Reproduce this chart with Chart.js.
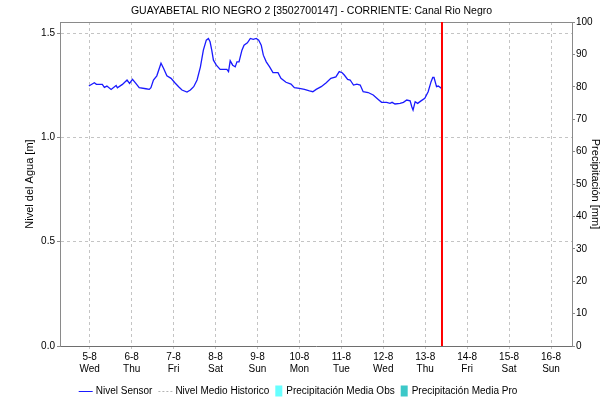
<!DOCTYPE html>
<html>
<head>
<meta charset="utf-8">
<script src="https://cdn.jsdelivr.net/npm/chart.js@4.4.1/dist/chart.umd.min.js"></script>
<style>
  html, body { margin: 0; padding: 0; background: #ffffff; }
  canvas { display: block; }
</style>
</head>
<body>
<canvas id="chart" width="613" height="403"></canvas>
<script>
// Station title
const stationTitle = 'GUAYABETAL RIO NEGRO 2 [3502700147] - CORRIENTE: Canal Rio Negro';

// Day axis: tick i = midnight of day dayLabels[i]
const dayLabels = ['5-8', '6-8', '7-8', '8-8', '9-8', '10-8', '11-8', '12-8', '13-8', '14-8', '15-8', '16-8'];
const weekDays  = ['Wed', 'Thu', 'Fri', 'Sat', 'Sun', 'Mon', 'Tue', 'Wed', 'Thu', 'Fri', 'Sat', 'Sun'];
const dayMin = -17 / 24;   // 4-8 07:00
const dayMax = 11.5;       // 16-8 12:00
const nowDay = 8.40;       // current time marker

// Water level axis
const levelTicks = [0, 0.5, 1.0, 1.5];
const levelMax = 1.553;

// Precipitation axis
const precipMax = 100;

// Sensor level: time (days from 5-8 00:00) and level [m]
const levelDays = [
  -0.02, 0.11, 0.16, 0.30, 0.35, 0.41, 0.51, 0.63, 0.66, 0.78, 0.89, 0.95, 1.02, 1.10, 1.18, 1.34,
  1.42, 1.46, 1.52, 1.60, 1.70, 1.76, 1.84, 1.94, 2.03, 2.12, 2.20, 2.32, 2.40, 2.48, 2.56, 2.64,
  2.71, 2.78, 2.83, 2.87, 2.91, 2.95, 3.02, 3.11, 3.27, 3.31, 3.35, 3.41, 3.47, 3.51, 3.56, 3.63,
  3.68, 3.76, 3.83, 3.90, 3.97, 4.03, 4.09, 4.14, 4.21, 4.29, 4.37, 4.49, 4.56, 4.68, 4.80, 4.88,
  5.00, 5.12, 5.24, 5.32, 5.40, 5.52, 5.64, 5.75, 5.87, 5.95, 6.02, 6.07, 6.15, 6.21, 6.29, 6.37,
  6.45, 6.52, 6.64, 6.76, 6.88, 6.96, 7.08, 7.16, 7.21, 7.28, 7.40, 7.48, 7.56, 7.64, 7.68, 7.71,
  7.76, 7.82, 7.90, 7.99, 8.07, 8.14, 8.18, 8.21, 8.27, 8.31, 8.39
];
const levelValues = [
  1.246, 1.262, 1.254, 1.254, 1.240, 1.246, 1.230, 1.249, 1.238, 1.254, 1.275, 1.259, 1.278, 1.259, 1.238, 1.233,
  1.230, 1.238, 1.275, 1.295, 1.355, 1.331, 1.295, 1.283, 1.262, 1.243, 1.227, 1.217, 1.227, 1.243, 1.275, 1.338,
  1.418, 1.466, 1.474, 1.458, 1.418, 1.370, 1.346, 1.326, 1.326, 1.315, 1.367, 1.346, 1.338, 1.362, 1.362, 1.418,
  1.442, 1.453, 1.474, 1.470, 1.474, 1.466, 1.442, 1.394, 1.362, 1.338, 1.310, 1.310, 1.283, 1.264, 1.255, 1.238,
  1.235, 1.230, 1.223, 1.219, 1.230, 1.243, 1.262, 1.283, 1.290, 1.315, 1.310, 1.299, 1.278, 1.275, 1.251, 1.255,
  1.251, 1.219, 1.215, 1.203, 1.182, 1.168, 1.168, 1.163, 1.168, 1.160, 1.163, 1.168, 1.179, 1.175, 1.147, 1.131,
  1.171, 1.163, 1.175, 1.187, 1.219, 1.267, 1.287, 1.287, 1.243, 1.246, 1.235
];

// Historic mean level and precipitation (no values in this period)
const historicDays = [];
const historicValues = [];
const precipObsDays = [];
const precipObsValues = [];
const precipProDays = [];
const precipProValues = [];

const pairs = (xs, ys) => xs.map((x, i) => ({ x: x, y: ys[i] }));

const FONT = '"Liberation Sans", Arial, Helvetica, sans-serif';
Chart.defaults.font.family = FONT;
Chart.defaults.font.size = 10;
Chart.defaults.color = '#000000';

const GRID = '#c4c4c4';
const AXIS = '#8a8a8a';

// Single-row legend under the plot, built from the datasets that carry a label
const legendRow = {
  id: 'legendRow',
  afterDraw(chart, args, opts) {
    const ctx = chart.ctx;
    const items = chart.data.datasets.filter(ds => ds.label).map(ds => {
      const isBar = ds.type === 'bar';
      return { ds, isBar, sw: isBar ? 7 : 14, gap: isBar ? 4 : 3 };
    });
    ctx.save();
    ctx.font = '10px ' + FONT;
    ctx.textBaseline = 'middle';
    items.forEach(it => { it.tw = ctx.measureText(it.ds.label).width; });
    const spacing = 6;
    const total = items.reduce((s, it) => s + it.sw + it.gap + it.tw, 0) + spacing * (items.length - 1);
    let x = opts.centerX - total / 2;
    const y = opts.y;
    items.forEach(it => {
      const ds = it.ds;
      if (it.isBar) {
        ctx.fillStyle = ds.backgroundColor;
        ctx.fillRect(x, y - 5.5, it.sw, 11);
      } else {
        ctx.strokeStyle = ds.borderColor;
        ctx.lineWidth = 1;
        ctx.setLineDash(ds.borderDash || []);
        ctx.beginPath();
        ctx.moveTo(x, y + 0.5);
        ctx.lineTo(x + it.sw, y + 0.5);
        ctx.stroke();
        ctx.setLineDash([]);
      }
      x += it.sw + it.gap;
      ctx.fillStyle = '#000000';
      ctx.fillText(ds.label, x, y + 0.5);
      x += it.tw + spacing;
    });
    ctx.restore();
  }
};

new Chart(document.getElementById('chart'), {
  type: 'line',
  data: {
    datasets: [
      {
        label: 'Nivel Sensor',
        data: pairs(levelDays, levelValues),
        borderColor: '#1a1aff',
        borderWidth: 1.3,
        pointRadius: 0,
        tension: 0,
        yAxisID: 'y',
        order: 1
      },
      {
        label: 'Nivel Medio Historico',
        data: pairs(historicDays, historicValues),
        borderColor: '#b4b4b4',
        borderDash: [2, 2],
        borderWidth: 1,
        pointRadius: 0,
        yAxisID: 'y'
      },
      {
        type: 'bar',
        label: 'Precipitación Media Obs',
        data: pairs(precipObsDays, precipObsValues),
        backgroundColor: '#66ffff',
        yAxisID: 'y2'
      },
      {
        type: 'bar',
        label: 'Precipitación Media Pro',
        data: pairs(precipProDays, precipProValues),
        backgroundColor: '#3cc8c8',
        yAxisID: 'y2'
      },
      {
        // current time marker
        data: [{ x: nowDay, y: 0 }, { x: nowDay, y: precipMax }],
        borderColor: '#ff0000',
        borderWidth: 2,
        pointRadius: 0,
        yAxisID: 'y2',
        order: 0
      }
    ]
  },
  options: {
    responsive: false,
    animation: false,
    devicePixelRatio: 1,
    layout: { padding: { left: 10, right: 0, top: 0, bottom: 24 } },
    plugins: {
      legend: { display: false },
      tooltip: { enabled: false },
      title: {
        display: true,
        text: stationTitle,
        color: '#000000',
        font: { size: 10.5, weight: 'normal', family: FONT },
        padding: { top: 4.5, bottom: 4.9 }
      },
      legendRow: { centerX: 298, y: 391 }
    },
    scales: {
      x: {
        type: 'linear',
        position: 'bottom',
        offset: false,
        min: dayMin,
        max: dayMax,
        afterBuildTicks: s => { s.ticks = dayLabels.map((_, i) => ({ value: i })); },
        afterFit: s => { s.height = 33; },
        ticks: {
          autoSkip: false,
          maxRotation: 0,
          padding: 2,
          font: { size: 10, lineHeight: 1.2 },
          callback: v => [dayLabels[v], weekDays[v]]
        },
        grid: { offset: false, color: GRID, tickLength: 3, tickColor: GRID },
        border: { color: '#6e6e6e', dash: [3, 3] }
      },
      xTop: {
        type: 'linear',
        position: 'top',
        offset: false,
        min: dayMin,
        max: dayMax,
        afterFit: s => { s.height = 0; },
        ticks: { display: false },
        grid: { display: false, offset: false },
        border: { color: AXIS }
      },
      y: {
        type: 'linear',
        position: 'left',
        min: 0,
        max: levelMax,
        afterBuildTicks: s => { s.ticks = levelTicks.map(v => ({ value: v })); },
        afterFit: s => { s.width = 50; },
        ticks: { padding: 2, callback: v => v.toFixed(1) },
        grid: { color: GRID, tickLength: 3, tickColor: AXIS },
        border: { color: AXIS, dash: [3, 3] },
        title: {
          display: true,
          text: 'Nivel del Agua [m]',
          font: { size: 11 },
          padding: { top: 13, bottom: 0 }
        }
      },
      y2: {
        type: 'linear',
        position: 'right',
        min: 0,
        max: precipMax,
        afterFit: s => { s.width = 41; },
        ticks: { stepSize: 10, padding: 1 },
        grid: { drawOnChartArea: false, tickLength: 3, color: AXIS },
        border: { color: AXIS },
        title: {
          display: true,
          text: 'Precipitación [mm]',
          font: { size: 11 },
          padding: { top: 11, bottom: 0 }
        }
      }
    }
  },
  plugins: [legendRow]
});
</script>
</body>
</html>
